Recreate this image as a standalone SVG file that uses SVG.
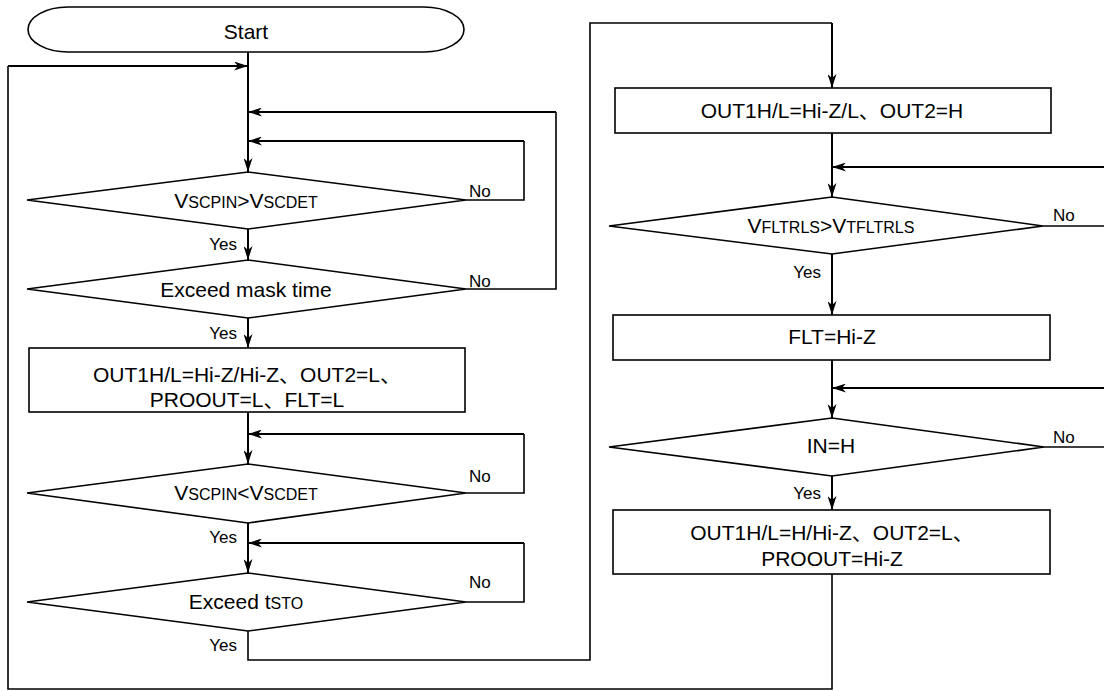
<svg xmlns="http://www.w3.org/2000/svg" width="1104" height="691" viewBox="0 0 1104 691">
<defs>
<marker id="ah" viewBox="0 0 14 9" refX="14" refY="4.5" markerWidth="14" markerHeight="9" orient="auto" markerUnits="userSpaceOnUse">
<path d="M0,0 L14,4.5 L0,9 L4,4.5 z" fill="#000"/>
</marker>
<style>
.shape{fill:#fff;stroke:#000;stroke-width:1.6}
.t{font-family:"Liberation Sans","Noto Sans CJK JP",sans-serif;font-size:21px;fill:#000;text-anchor:middle}
.s{font-size:16px}
.lbl{font-family:"Liberation Sans",sans-serif;font-size:17px;fill:#000}
.yes{text-anchor:end}
.c{fill:none;stroke:#000;stroke-width:2}
.r{fill:none;stroke:#000;stroke-width:1.6}
.a{marker-end:url(#ah)}
</style>
</defs>
<rect width="1104" height="691" fill="#fff"/>
<g id="connectors">
<line class="c a" x1="248" y1="52" x2="248" y2="172"/>
<polyline class="r" points="832,574 832,689 8,689 8,66"/>
<line class="c a" x1="8" y1="66" x2="248" y2="66"/>
<polyline class="r" points="466,289 556,289 556,112"/>
<line class="c a" x1="556" y1="112" x2="248" y2="112"/>
<polyline class="r" points="466,200 524,200 524,141"/>
<line class="c a" x1="524" y1="141" x2="248" y2="141"/>
<line class="c a" x1="248" y1="229" x2="248" y2="260"/>
<line class="c a" x1="248" y1="318" x2="248" y2="348"/>
<line class="c a" x1="248" y1="412" x2="248" y2="464"/>
<polyline class="r" points="466,493 524,493 524,434"/>
<line class="c a" x1="524" y1="434" x2="248" y2="434"/>
<line class="c a" x1="248" y1="523" x2="248" y2="573"/>
<polyline class="r" points="466,602 524,602 524,543"/>
<line class="c a" x1="524" y1="543" x2="248" y2="543"/>
<polyline class="r" points="248,631 248,660 590,660 590,23 832,23"/>
<line class="c a" x1="832" y1="23" x2="832" y2="88"/>
<line class="c a" x1="832" y1="133" x2="832" y2="197"/>
<line class="c a" x1="1104" y1="167" x2="832" y2="167"/>
<line class="r" x1="1043" y1="226" x2="1104" y2="226"/>
<line class="c a" x1="832" y1="254" x2="832" y2="315"/>
<line class="c a" x1="832" y1="360" x2="832" y2="418"/>
<line class="c a" x1="1104" y1="388" x2="832" y2="388"/>
<line class="r" x1="1044" y1="447" x2="1104" y2="447"/>
<line class="c a" x1="832" y1="476" x2="832" y2="510"/>
</g>
<g id="start">
<rect class="shape" x="28" y="7" width="436" height="45" rx="40" ry="22.5"/>
<text class="t" x="246" y="39">Start</text>
</g>
<g id="d1">
<polygon class="shape" points="248,172 466,200 248,229 27,200"/>
<text class="t" x="246" y="208">V<tspan class="s">SCPIN</tspan>&gt;V<tspan class="s">SCDET</tspan></text>
<text class="lbl" x="469" y="197">No</text>
<text class="lbl yes" x="237" y="250">Yes</text>
</g>
<g id="d2">
<polygon class="shape" points="248,260 466,289 248,318 27,289"/>
<text class="t" x="246" y="297">Exceed mask time</text>
<text class="lbl" x="469" y="287">No</text>
<text class="lbl yes" x="237" y="339">Yes</text>
</g>
<g id="box1">
<rect class="shape" x="29" y="348" width="436" height="64"/>
<text class="t" x="247" y="382">OUT1H/L=Hi-Z/Hi-Z、OUT2=L、</text>
<text class="t" x="247" y="407">PROOUT=L、FLT=L</text>
</g>
<g id="d3">
<polygon class="shape" points="248,464 466,493 248,523 27,493"/>
<text class="t" x="246" y="500">V<tspan class="s">SCPIN</tspan>&lt;V<tspan class="s">SCDET</tspan></text>
<text class="lbl" x="469" y="482">No</text>
<text class="lbl yes" x="237" y="543">Yes</text>
</g>
<g id="d4">
<polygon class="shape" points="248,573 466,602 248,631 27,602"/>
<text class="t" x="246" y="609">Exceed t<tspan class="s">STO</tspan></text>
<text class="lbl" x="469" y="588">No</text>
<text class="lbl yes" x="237" y="651">Yes</text>
</g>
<g id="box2">
<rect class="shape" x="615" y="88" width="436" height="45"/>
<text class="t" x="832" y="118">OUT1H/L=Hi-Z/L、OUT2=H</text>
</g>
<g id="d5">
<polygon class="shape" points="832,197 1043,226 832,254 609,226"/>
<text class="t" x="831" y="233">V<tspan class="s">FLTRLS</tspan>&gt;V<tspan class="s">TFLTRLS</tspan></text>
<text class="lbl" x="1053" y="221">No</text>
<text class="lbl yes" x="821" y="278">Yes</text>
</g>
<g id="box3">
<rect class="shape" x="613" y="315" width="437" height="45"/>
<text class="t" x="832" y="344">FLT=Hi-Z</text>
</g>
<g id="d6">
<polygon class="shape" points="832,418 1044,447 832,476 609,447"/>
<text class="t" x="831" y="453">IN=H</text>
<text class="lbl" x="1053" y="443">No</text>
<text class="lbl yes" x="821" y="499">Yes</text>
</g>
<g id="box4">
<rect class="shape" x="613" y="510" width="437" height="64"/>
<text class="t" x="832" y="540">OUT1H/L=H/Hi-Z、OUT2=L、</text>
<text class="t" x="832" y="566">PROOUT=Hi-Z</text>
</g>
</svg>
